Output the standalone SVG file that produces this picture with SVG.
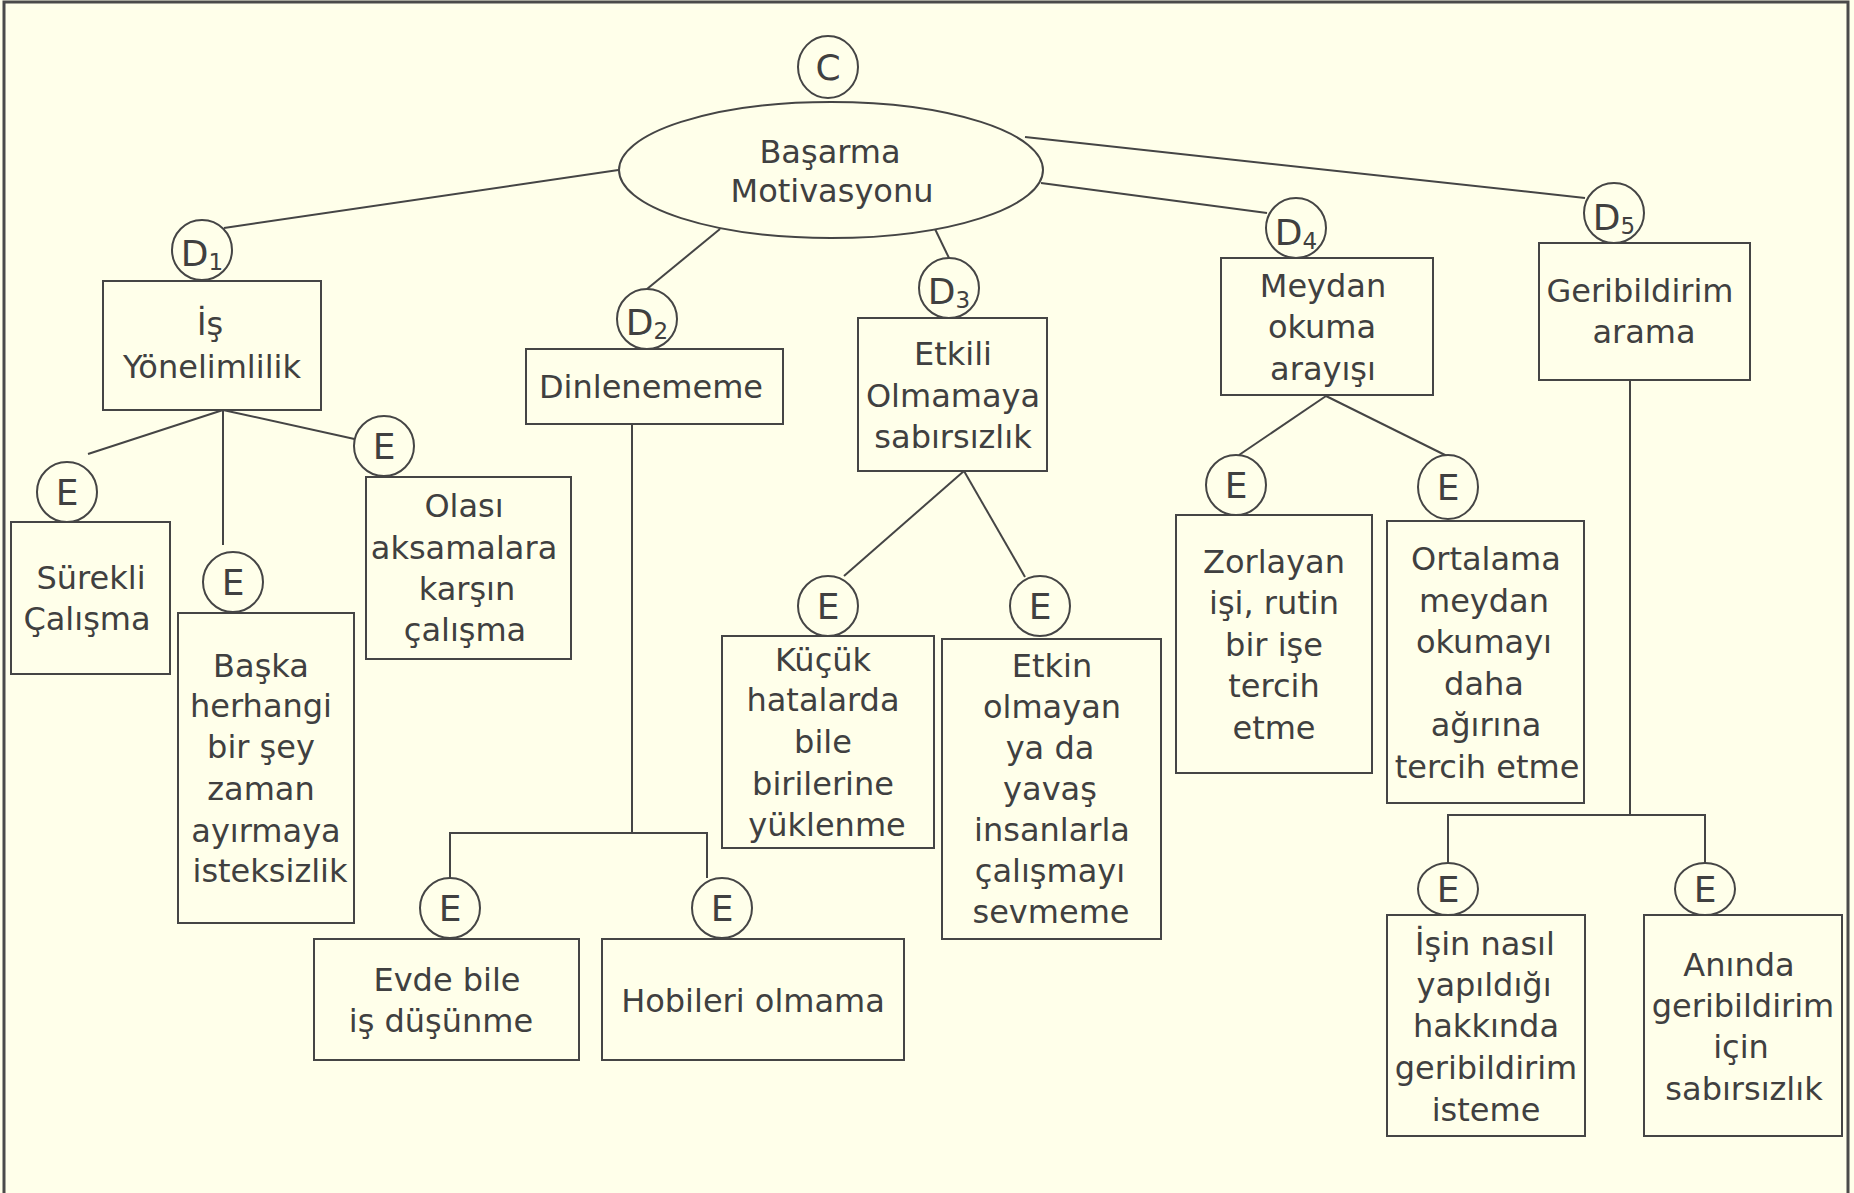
<svg xmlns="http://www.w3.org/2000/svg" width="1854" height="1193" viewBox="0 0 1854 1193">
<style>
.bg{fill:#FFFFEA}
.bx{fill:#FFFFEA;stroke:#454545;stroke-width:2}
.ln{fill:none;stroke:#454545;stroke-width:2}
.t{font-family:'DejaVu Sans','Liberation Sans',sans-serif;font-size:32px;fill:#404040;text-anchor:middle}
.c{font-family:'DejaVu Sans','Liberation Sans',sans-serif;font-size:36px;fill:#404040;text-anchor:middle}
.s{font-size:23px}
</style>
<rect class="bg" x="0" y="0" width="1854" height="1193"/>
<path d="M4,1193 V2 H1848 V1193" fill="none" stroke="#4a4a4a" stroke-width="3"/>

<g id="connectors" class="ln">
<line x1="632" y1="168" x2="224" y2="228"/>
<line x1="720" y1="229" x2="647" y2="289"/>
<line x1="935" y1="229" x2="949" y2="258"/>
<line x1="1041" y1="183" x2="1267" y2="213"/>
<line x1="1025" y1="137" x2="1585" y2="198"/>
<line x1="223" y1="410" x2="88" y2="454"/>
<line x1="223" y1="410" x2="223" y2="545"/>
<line x1="223" y1="410" x2="359" y2="440"/>
<polyline points="632,424 632,833"/>
<polyline points="450,878 450,833 707,833 707,878"/>
<line x1="964" y1="471" x2="844" y2="576"/>
<line x1="964" y1="471" x2="1025" y2="577"/>
<line x1="1326" y1="396" x2="1239" y2="455"/>
<line x1="1326" y1="396" x2="1447" y2="456"/>
<polyline points="1630,380 1630,815"/>
<polyline points="1448,863 1448,815 1705,815 1705,863"/>
</g>

<g id="root">
<ellipse class="bx" cx="831" cy="170" rx="212" ry="68"/>
<text class="t"><tspan x="830" y="163">Başarma</tspan><tspan x="832" y="202">Motivasyonu</tspan></text>
</g>
<g id="c-label">
<ellipse class="bx" cx="828" cy="67" rx="30" ry="31"/>
<text class="c" x="828" y="80">C</text>
</g>

<g id="d1">
<circle class="bx" cx="202" cy="250" r="30"/>
<text class="c" x="202" y="266">D<tspan class="s" dy="4">1</tspan></text>
</g>
<g id="d2">
<circle class="bx" cx="647" cy="319" r="30"/>
<text class="c" x="647" y="335">D<tspan class="s" dy="4">2</tspan></text>
</g>
<g id="d3">
<circle class="bx" cx="949" cy="288" r="30"/>
<text class="c" x="949" y="304">D<tspan class="s" dy="4">3</tspan></text>
</g>
<g id="d4">
<circle class="bx" cx="1296" cy="228" r="30"/>
<text class="c" x="1296" y="245">D<tspan class="s" dy="4">4</tspan></text>
</g>
<g id="d5">
<circle class="bx" cx="1614" cy="213" r="30"/>
<text class="c" x="1614" y="230">D<tspan class="s" dy="4">5</tspan></text>
</g>

<g id="is-yonelimlilik">
<rect class="bx" x="103" y="281" width="218" height="129"/>
<text class="t"><tspan x="210" y="335">İş</tspan><tspan x="212" y="378">Yönelimlilik</tspan></text>
</g>
<g id="dinlenememe">
<rect class="bx" x="526" y="349" width="257" height="75"/>
<text class="t" x="651" y="398">Dinlenememe</text>
</g>
<g id="etkili">
<rect class="bx" x="858" y="318" width="189" height="153"/>
<text class="t"><tspan x="953" y="365">Etkili</tspan><tspan x="953" y="407">Olmamaya</tspan><tspan x="953" y="448">sabırsızlık</tspan></text>
</g>
<g id="meydan">
<rect class="bx" x="1221" y="258" width="212" height="137"/>
<text class="t"><tspan x="1323" y="297">Meydan</tspan><tspan x="1322" y="338">okuma</tspan><tspan x="1323" y="380">arayışı</tspan></text>
</g>
<g id="geribildirim">
<rect class="bx" x="1539" y="243" width="211" height="137"/>
<text class="t"><tspan x="1640" y="302">Geribildirim</tspan><tspan x="1644" y="343">arama</tspan></text>
</g>

<g id="e1">
<circle class="bx" cx="67" cy="492" r="30"/>
<text class="c" x="67" y="505">E</text>
</g>
<g id="surekli">
<rect class="bx" x="11" y="522" width="159" height="152"/>
<text class="t"><tspan x="91" y="589">Sürekli</tspan><tspan x="87" y="630">Çalışma</tspan></text>
</g>
<g id="e2">
<circle class="bx" cx="233" cy="582" r="30"/>
<text class="c" x="233" y="595">E</text>
</g>
<g id="baska">
<rect class="bx" x="178" y="613" width="176" height="310"/>
<text class="t"><tspan x="261" y="677">Başka</tspan><tspan x="261" y="717">herhangi</tspan><tspan x="261" y="758">bir şey</tspan><tspan x="261" y="800">zaman</tspan><tspan x="266" y="842">ayırmaya</tspan><tspan x="270" y="882">isteksizlik</tspan></text>
</g>
<g id="e3">
<circle class="bx" cx="384" cy="446" r="30"/>
<text class="c" x="384" y="459">E</text>
</g>
<g id="olasi">
<rect class="bx" x="366" y="477" width="205" height="182"/>
<text class="t"><tspan x="464" y="517">Olası</tspan><tspan x="464" y="559">aksamalara</tspan><tspan x="467" y="600">karşın</tspan><tspan x="465" y="641">çalışma</tspan></text>
</g>
<g id="e4">
<circle class="bx" cx="450" cy="908" r="30"/>
<text class="c" x="450" y="921">E</text>
</g>
<g id="evde">
<rect class="bx" x="314" y="939" width="265" height="121"/>
<text class="t"><tspan x="447" y="991">Evde bile</tspan><tspan x="441" y="1032">iş düşünme</tspan></text>
</g>
<g id="e5">
<circle class="bx" cx="722" cy="908" r="30"/>
<text class="c" x="722" y="921">E</text>
</g>
<g id="hobileri">
<rect class="bx" x="602" y="939" width="302" height="121"/>
<text class="t" x="753" y="1012">Hobileri olmama</text>
</g>
<g id="e6">
<circle class="bx" cx="828" cy="606" r="30"/>
<text class="c" x="828" y="619">E</text>
</g>
<g id="kucuk">
<rect class="bx" x="722" y="636" width="212" height="212"/>
<text class="t"><tspan x="823" y="671">Küçük</tspan><tspan x="823" y="711">hatalarda</tspan><tspan x="823" y="753">bile</tspan><tspan x="823" y="795">birilerine</tspan><tspan x="827" y="836">yüklenme</tspan></text>
</g>
<g id="e7">
<circle class="bx" cx="1040" cy="606" r="30"/>
<text class="c" x="1040" y="619">E</text>
</g>
<g id="etkin">
<rect class="bx" x="942" y="639" width="219" height="300"/>
<text class="t"><tspan x="1052" y="677">Etkin</tspan><tspan x="1052" y="718">olmayan</tspan><tspan x="1050" y="759">ya da</tspan><tspan x="1050" y="800">yavaş</tspan><tspan x="1052" y="841">insanlarla</tspan><tspan x="1050" y="882">çalışmayı</tspan><tspan x="1051" y="923">sevmeme</tspan></text>
</g>
<g id="e8">
<circle class="bx" cx="1236" cy="485" r="30"/>
<text class="c" x="1236" y="498">E</text>
</g>
<g id="zorlayan">
<rect class="bx" x="1176" y="515" width="196" height="258"/>
<text class="t"><tspan x="1274" y="573">Zorlayan</tspan><tspan x="1274" y="614">işi, rutin</tspan><tspan x="1274" y="656">bir işe</tspan><tspan x="1274" y="697">tercih</tspan><tspan x="1274" y="739">etme</tspan></text>
</g>
<g id="e9">
<ellipse class="bx" cx="1448" cy="487" rx="30" ry="32"/>
<text class="c" x="1448" y="500">E</text>
</g>
<g id="ortalama">
<rect class="bx" x="1387" y="521" width="197" height="282"/>
<text class="t"><tspan x="1486" y="570">Ortalama</tspan><tspan x="1484" y="612">meydan</tspan><tspan x="1484" y="653">okumayı</tspan><tspan x="1484" y="695">daha</tspan><tspan x="1486" y="736">ağırına</tspan><tspan x="1487" y="778">tercih etme</tspan></text>
</g>
<g id="e10">
<ellipse class="bx" cx="1448" cy="889" rx="30" ry="26"/>
<text class="c" x="1448" y="902">E</text>
</g>
<g id="isin">
<rect class="bx" x="1387" y="915" width="198" height="221"/>
<text class="t"><tspan x="1485" y="955">İşin nasıl</tspan><tspan x="1484" y="996">yapıldığı</tspan><tspan x="1486" y="1037">hakkında</tspan><tspan x="1486" y="1079">geribildirim</tspan><tspan x="1486" y="1121">isteme</tspan></text>
</g>
<g id="e11">
<ellipse class="bx" cx="1705" cy="889" rx="30" ry="26"/>
<text class="c" x="1705" y="902">E</text>
</g>
<g id="aninda">
<rect class="bx" x="1644" y="915" width="198" height="221"/>
<text class="t"><tspan x="1739" y="976">Anında</tspan><tspan x="1743" y="1017">geribildirim</tspan><tspan x="1741" y="1058">için</tspan><tspan x="1744" y="1100">sabırsızlık</tspan></text>
</g>
</svg>
